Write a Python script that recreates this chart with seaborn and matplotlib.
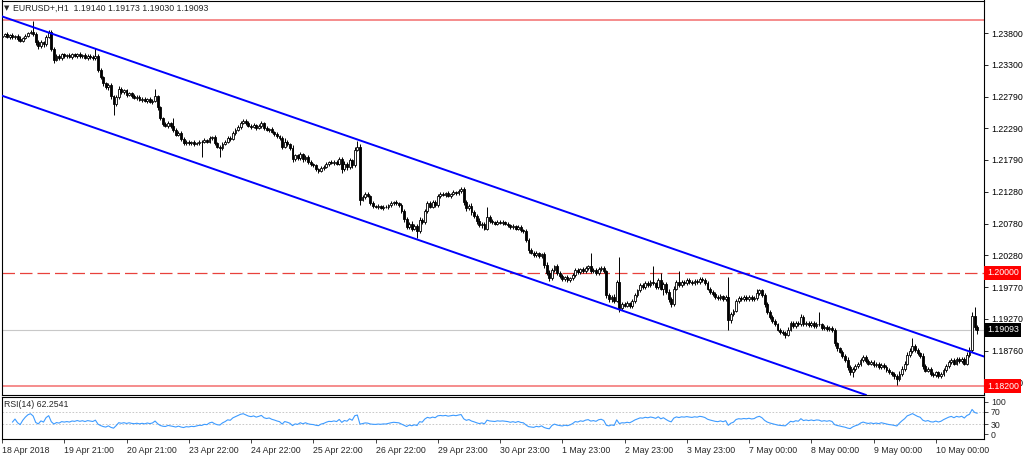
import numpy as np
import pandas as pd
import matplotlib
matplotlib.use("Agg")
import matplotlib.pyplot as plt
import matplotlib.transforms as mtransforms
import seaborn as sns

# ---------------- data ----------------
symbol_title = "EURUSD+,H1"
last_ohlc = ["1.19140", "1.19173", "1.19030", "1.19093"]

first_open_pips = 12374
close_pips = [
    12376, 12378, 12374, 12377, 12373, 12375, 12371, 12368, 12372, 12376,
    12380, 12382, 12379, 12365, 12360, 12366, 12362, 12374, 12381, 12355,
    12338, 12344, 12340, 12346, 12343, 12345, 12342, 12346, 12344, 12347,
    12343, 12345, 12341, 12344, 12342, 12340, 12344, 12322, 12310, 12300,
    12294, 12298, 12280, 12268, 12278, 12292, 12286, 12289, 12282, 12285,
    12280, 12277, 12279, 12274, 12276, 12272, 12275, 12271, 12273, 12280,
    12262, 12245, 12236, 12233, 12237, 12232, 12226, 12219, 12222, 12212,
    12205, 12208, 12205, 12207, 12204, 12206, 12208, 12207, 12210, 12208,
    12213, 12215, 12206, 12200, 12198, 12204, 12208, 12214, 12212, 12221,
    12226, 12231, 12238, 12241, 12237, 12233, 12231, 12234, 12230, 12233,
    12237, 12229, 12226, 12228, 12223, 12220, 12216, 12213, 12200, 12208,
    12204, 12198, 12180, 12186, 12182, 12188, 12180, 12184, 12176, 12172,
    12170, 12164, 12161, 12166, 12168, 12172, 12175, 12174, 12176, 12173,
    12180, 12165, 12172, 12168, 12178, 12170, 12195, 12200, 12116, 12120,
    12125, 12122, 12110, 12106, 12104, 12106, 12103, 12105, 12104, 12107,
    12110, 12112, 12110, 12108, 12098, 12085, 12072, 12078, 12070, 12074,
    12066, 12084, 12080, 12098, 12110, 12105, 12112, 12108, 12122, 12125,
    12123, 12126, 12122, 12125, 12128, 12126, 12130, 12133, 12112, 12102,
    12106, 12096, 12090, 12082, 12075, 12078, 12070, 12088, 12082, 12080,
    12078, 12081, 12079, 12080, 12078, 12076, 12072, 12074, 12070, 12073,
    12068, 12066, 12052, 12036, 12032, 12028, 12031, 12026, 12029, 12012,
    12000, 11992, 12004, 12010, 12000, 11995, 11990, 11993, 11988, 11991,
    11996, 12004, 12001, 12006, 12003, 12008, 12010, 12002, 12004, 12000,
    12006, 12008, 12002, 11965, 11958, 11962, 11956, 11985, 11944, 11950,
    11948, 11952, 11947, 11955, 11965, 11972, 11980, 11978, 11984, 11981,
    11986, 11983, 11978, 11988, 11975, 11982, 11970, 11958, 11950, 11975,
    11985, 11980, 11986, 11984, 11988, 11985, 11983, 11987, 11985, 11990,
    11988, 11984, 11975, 11970, 11966, 11962, 11960, 11963, 11958, 11962,
    11925, 11935, 11940, 11955, 11960, 11958, 11961, 11959, 11962, 11958,
    11960, 11968, 11972, 11965, 11950, 11938, 11930, 11924, 11918, 11910,
    11906, 11904, 11902, 11910, 11920, 11916, 11921, 11918, 11930, 11918,
    11921, 11917, 11920, 11916, 11919, 11918, 11912, 11914, 11911, 11913,
    11909, 11888, 11880, 11875, 11868, 11862, 11850, 11842, 11848, 11852,
    11855, 11862, 11866, 11860, 11856, 11858, 11853, 11855, 11851, 11854,
    11850, 11846, 11842, 11840, 11836, 11832, 11840, 11848, 11856, 11870,
    11876, 11884, 11878, 11872, 11868, 11852, 11845, 11848, 11840, 11838,
    11842, 11836, 11839, 11846, 11852, 11858, 11862, 11856, 11863, 11860,
    11864, 11856, 11870, 11878, 11932, 11914, 11909,
]
wick_up = [
    3, 2, 3, 2, 3, 2, 3, 4, 2, 3,
    2, 3, 17, 2, 4, 3, 2, 3, 4, 3,
    3, 2, 3, 2, 3, 2, 3, 2, 3, 2,
    3, 2, 3, 2, 2, 3, 12, 2, 3, 2,
    3, 2, 3, 2, 3, 4, 3, 2, 3, 2,
    2, 3, 2, 3, 2, 3, 2, 3, 2, 11,
    2, 3, 2, 3, 4, 2, 13, 3, 2, 3,
    3, 2, 3, 2, 3, 2, 3, 2, 3, 2,
    3, 2, 3, 2, 3, 3, 2, 3, 2, 3,
    3, 3, 2, 3, 2, 3, 2, 3, 2, 3,
    3, 2, 3, 2, 3, 2, 3, 2, 3, 5,
    3, 2, 4, 3, 2, 4, 2, 3, 2, 3,
    2, 3, 2, 3, 2, 3, 2, 3, 2, 3,
    4, 3, 5, 3, 4, 3, 4, 9, 4, 3,
    3, 3, 2, 3, 2, 3, 2, 2, 3, 2,
    3, 2, 3, 2, 3, 3, 4, 3, 4, 3,
    3, 4, 3, 3, 3, 4, 3, 3, 3, 3,
    3, 2, 3, 2, 3, 2, 3, 3, 3, 4,
    3, 4, 3, 3, 4, 3, 3, 16, 3, 3,
    2, 3, 2, 3, 2, 3, 2, 3, 2, 3,
    3, 2, 4, 3, 3, 2, 3, 2, 3, 4,
    5, 4, 4, 3, 4, 3, 3, 2, 3, 2,
    3, 3, 3, 2, 3, 3, 3, 21, 3, 3,
    3, 2, 3, 3, 3, 3, 4, 4, 40, 3,
    3, 3, 2, 4, 3, 3, 3, 3, 3, 3,
    3, 24, 3, 4, 12, 3, 3, 4, 3, 4,
    4, 17, 3, 3, 3, 3, 3, 3, 3, 3,
    3, 3, 3, 3, 3, 3, 2, 3, 2, 3,
    31, 3, 3, 3, 3, 3, 3, 3, 3, 3,
    3, 6, 3, 3, 3, 3, 3, 3, 3, 3,
    3, 3, 3, 4, 4, 3, 3, 3, 5, 3,
    3, 3, 3, 3, 3, 18, 3, 3, 3, 3,
    3, 4, 3, 3, 3, 3, 4, 3, 3, 3,
    3, 3, 3, 3, 3, 3, 3, 3, 3, 3,
    3, 3, 3, 3, 3, 3, 4, 4, 4, 5,
    4, 13, 3, 3, 3, 4, 3, 3, 3, 3,
    3, 3, 3, 3, 3, 3, 3, 3, 3, 3,
    3, 3, 4, 4, 6, 14, 3,
]
wick_dn = [
    2, 3, 2, 3, 2, 3, 3, 2, 3, 2,
    3, 2, 3, 4, 5, 3, 4, 2, 2, 3,
    6, 3, 2, 3, 2, 3, 2, 3, 2, 3,
    2, 3, 2, 3, 3, 2, 3, 4, 3, 4,
    3, 4, 5, 18, 3, 2, 3, 2, 3, 2,
    3, 2, 3, 2, 3, 2, 3, 2, 3, 2,
    4, 3, 3, 2, 3, 3, 3, 3, 3, 3,
    3, 2, 3, 2, 3, 2, 3, 24, 2, 3,
    2, 3, 3, 3, 15, 3, 2, 3, 3, 2,
    3, 2, 3, 2, 3, 2, 3, 2, 3, 2,
    3, 3, 2, 3, 2, 3, 3, 3, 4, 3,
    3, 4, 4, 3, 4, 3, 4, 3, 3, 3,
    3, 3, 3, 2, 3, 2, 3, 2, 3, 2,
    3, 7, 3, 5, 3, 4, 3, 2, 8, 3,
    3, 2, 3, 3, 2, 3, 2, 3, 2, 3,
    2, 3, 2, 3, 4, 4, 3, 3, 4, 3,
    11, 3, 3, 3, 3, 3, 3, 3, 3, 3,
    2, 3, 2, 3, 2, 3, 2, 3, 4, 4,
    3, 4, 3, 4, 3, 4, 3, 3, 3, 3,
    2, 3, 2, 3, 2, 3, 2, 3, 2, 3,
    3, 3, 4, 4, 3, 3, 3, 3, 3, 4,
    4, 5, 4, 3, 3, 3, 3, 3, 3, 3,
    3, 3, 3, 3, 3, 3, 3, 3, 3, 3,
    3, 3, 3, 5, 4, 4, 4, 3, 6, 3,
    3, 3, 3, 3, 3, 3, 3, 3, 3, 3,
    3, 3, 3, 3, 3, 10, 3, 4, 5, 3,
    3, 3, 3, 3, 3, 3, 3, 3, 3, 3,
    3, 3, 3, 3, 3, 3, 3, 3, 3, 3,
    16, 4, 3, 3, 3, 3, 3, 3, 3, 3,
    3, 3, 3, 3, 4, 3, 3, 3, 3, 3,
    3, 3, 5, 3, 3, 3, 3, 3, 3, 3,
    3, 3, 3, 3, 3, 3, 3, 3, 3, 3,
    3, 4, 4, 3, 3, 3, 4, 4, 7, 3,
    3, 3, 3, 3, 3, 3, 3, 3, 3, 3,
    3, 3, 3, 3, 4, 10, 3, 3, 3, 3,
    3, 3, 3, 3, 3, 4, 3, 3, 3, 3,
    3, 3, 3, 3, 3, 3, 3, 3, 3, 3,
    3, 3, 3, 3, 4, 4, 6,
]

tick_bars = [0, 24, 48, 72, 96, 120, 144, 168, 192, 216, 240, 264, 288, 312, 336, 360]
tick_labels = ["18 Apr 2018", "19 Apr 21:00", "20 Apr 21:00", "23 Apr 22:00",
               "24 Apr 22:00", "25 Apr 22:00", "26 Apr 22:00", "29 Apr 23:00",
               "30 Apr 23:00", "1 May 23:00", "2 May 23:00", "3 May 23:00",
               "7 May 00:00", "8 May 00:00", "9 May 00:00", "10 May 00:00"]
price_ticks = [1.23800, 1.23300, 1.22790, 1.22290, 1.21790, 1.21280, 1.20780,
               1.20280, 1.19770, 1.19270, 1.18760, 1.18260]
red_levels = [1.24000, 1.18200]
dashed_level = 1.20000
bid_level = 1.19093
channel_upper = [(0, 1.24063), (376, 1.18709)]
channel_lower = [(0, 1.22806), (376, 1.17452)]
rsi_period = 14
rsi_levels = [70, 30]
rsi_ticks = [100, 70, 30, 0]
rsi_label = "RSI(14) 62.2541"

# ---------------- derived ----------------
n = min(len(close_pips), len(wick_up), len(wick_dn))
idx = np.arange(n)
closes = np.array(close_pips[:n]) / 10000.0
opens = np.r_[first_open_pips / 10000.0, closes[:-1]]
highs = np.maximum(opens, closes) + np.array(wick_up[:n]) / 10000.0
lows = np.minimum(opens, closes) - np.array(wick_dn[:n]) / 10000.0

s = pd.Series(closes)
d = s.diff()
gain = d.clip(lower=0)
loss = (-d).clip(lower=0)
ag = gain.ewm(alpha=1.0 / rsi_period, adjust=True).mean()
al = loss.ewm(alpha=1.0 / rsi_period, adjust=True).mean()
rsi = 100 - 100 / (1 + ag / al)
rsi_df = pd.DataFrame({"bar": idx, "rsi": rsi.values}).iloc[4:]

# ---------------- style ----------------
sns.set_style("white")
plt.rcParams["font.family"] = ["Liberation Sans", "DejaVu Sans"]
FS = 6.3

W, H = 1024, 455
fig = plt.figure(figsize=(W / 100, H / 100), dpi=100)
x0, x1 = 1.5, 984
ax = fig.add_axes([x0 / W, 1 - 395 / H, (x1 - x0) / W, (395 - 0.5) / H])
ax2 = fig.add_axes([x0 / W, 1 - 439 / H, (x1 - x0) / W, (439 - 397) / H])

xlim = (-0.2, 378.6)

# horizontal levels
for lv in red_levels:
    ax.axhline(lv, color="#f26d6d", linewidth=1.1, zorder=1)
ax.axhline(dashed_level, color="#e8423c", linewidth=0.9, dashes=(10, 4), zorder=1)
ax.axhline(bid_level, color="#c8c8c8", linewidth=0.8, zorder=1)

# candles
ax.vlines(idx, lows, highs, color="black", linewidth=0.7, zorder=2)
bull = closes >= opens
bot = np.minimum(opens, closes)
hgt = np.maximum(np.abs(closes - opens), 0.00003)
ax.bar(idx[bull], hgt[bull], bottom=bot[bull], width=0.72, color="white",
       edgecolor="black", linewidth=0.6, zorder=3)
ax.bar(idx[~bull], hgt[~bull], bottom=bot[~bull], width=0.72, color="black",
       edgecolor="black", linewidth=0.6, zorder=3)

# channel
ax.axline(channel_upper[0], channel_upper[1], color="#0000ff", linewidth=1.4, zorder=4)
ax.axline(channel_lower[0], channel_lower[1], color="#0000ff", linewidth=1.4, zorder=4)

ax.set_xlim(*xlim)
ax.set_ylim(1.180622, 1.243152)
ax.yaxis.tick_right()
ax.set_yticks(price_ticks)
ax.set_yticklabels([f"{p:.5f}" for p in price_ticks])
ax.tick_params(axis="y", which="both", direction="out", length=3, width=0.6,
               pad=2, labelsize=FS, colors="black", right=True, left=False)
ax.set_xticks([])
for sp in ax.spines.values():
    sp.set_color("black")
    sp.set_linewidth(0.8)

trans = mtransforms.blended_transform_factory(ax.transAxes, ax.transData)
for lv, fc in [(dashed_level, "#ff0000"), (bid_level, "#000000"), (red_levels[1], "#ff0000")]:
    ax.text(1.003, lv, f"{lv:.5f}", transform=trans, ha="left", va="center",
            color="white", fontsize=FS, zorder=10, clip_on=False,
            bbox=dict(boxstyle="square,pad=0.3", fc=fc, ec="none"))

fig.text(4 / W, 1 - 8 / H, "▼", fontsize=5, family="DejaVu Sans", va="center", ha="left")
fig.text(13 / W, 1 - 8 / H, symbol_title + "  " + " ".join(last_ohlc),
         fontsize=FS, va="center", ha="left")

# RSI panel
for lv in rsi_levels:
    ax2.axhline(lv, color="#c0c0c0", linewidth=0.6, dashes=(2, 2), zorder=1)
sns.lineplot(data=rsi_df, x="bar", y="rsi", ax=ax2, color="#3d9bff",
             linewidth=0.8, zorder=3)
ax2.set_xlim(*xlim)
ax2.set_ylim(-15.6, 115.6)
ax2.set_xlabel("")
ax2.set_ylabel("")
ax2.yaxis.tick_right()
ax2.set_yticks(rsi_ticks)
ax2.set_yticklabels([str(t) for t in rsi_ticks])
ax2.tick_params(axis="y", direction="out", length=3, width=0.6, pad=2,
                labelsize=FS, right=True, left=False)
ax2.set_xticks(tick_bars)
ax2.set_xticklabels(tick_labels, ha="left")
ax2.tick_params(axis="x", direction="out", length=3, width=0.6, pad=2,
                labelsize=FS, bottom=True)
for lbl in ax2.get_xticklabels():
    lbl.set_horizontalalignment("left")
for sp in ax2.spines.values():
    sp.set_color("black")
    sp.set_linewidth(0.8)
ax2.text(0.003, 0.83, rsi_label, transform=ax2.transAxes,
         fontsize=FS, ha="left", va="center")

fig.savefig("out.png", dpi=100, facecolor="white")
